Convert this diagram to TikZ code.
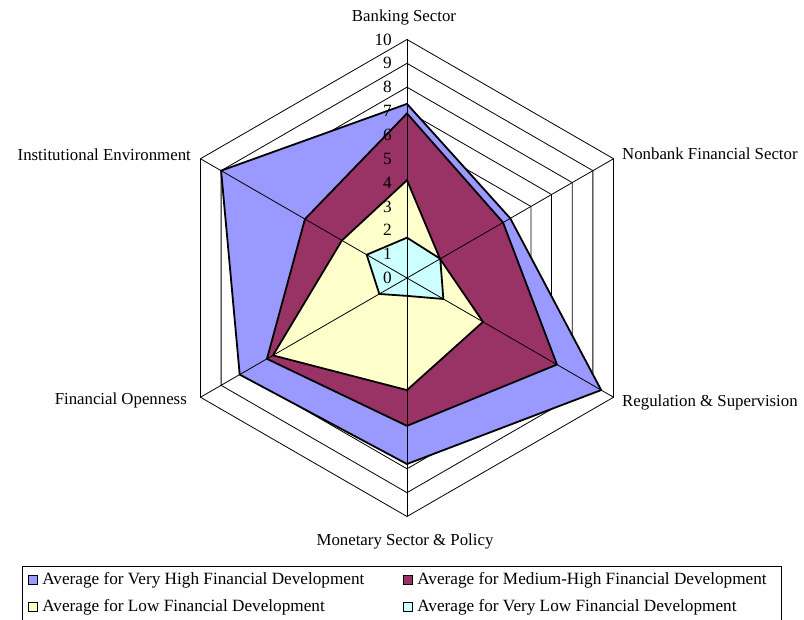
\documentclass[tikz,border=0pt]{standalone}
\usepackage{fontspec}
\setmainfont{Liberation Serif}
\usetikzlibrary{positioning, calc}
\definecolor{veryhigh}{RGB}{153, 153, 255}
\definecolor{medhigh}{RGB}{153, 51, 102}
\definecolor{lowdev}{RGB}{255, 255, 204}
\definecolor{verylow}{RGB}{204, 255, 255}

\begin{document}
\begin{tikzpicture}[x=1pt, y=1pt, font=\fontsize{17.2}{20}\selectfont,
  ring/.style={draw=black, line width=0.8pt},
  spoke/.style={draw=black, line width=0.8pt},
  series/.style={draw=black, line width=1.8pt, line join=miter},
  axislabel/.style={inner sep=0pt, font=\fontsize{16.8}{20}\selectfont},
  key/.style={draw=black, line width=0.8pt, minimum size=9.5pt, inner sep=0pt}]
  \useasboundingbox (0,0) rectangle (804,620);
  \coordinate (c) at (407,342);
  \def\u{23.85}

  % grid rings
  \foreach \k in {1,...,10}
    \draw[ring, shift={(c)}] (90:\k*\u) -- (30:\k*\u) -- (-30:\k*\u) -- (-90:\k*\u) -- (-150:\k*\u) -- (150:\k*\u) -- cycle;

  % series: banking, nonbank, regulation, monetary, openness, institutional
  \foreach \col/\a/\b/\cc/\d/\e/\f in {veryhigh/7.3/5.0/9.4/7.8/8.1/9.0,
      medhigh/6.9/4.65/7.26/6.2/6.78/4.94,
      lowdev/4.1/1.6/3.68/4.7/6.49/3.15,
      verylow/1.69/1.61/1.76/0.75/1.34/1.95}
    \filldraw[series, fill=\col, shift={(c)}] (90:\a*\u) -- (30:\b*\u) -- (-30:\cc*\u) -- (-90:\d*\u) -- (-150:\e*\u) -- (150:\f*\u) -- cycle;

  % axes
  \foreach \ang in {90,30,-30,-90,-150,150}
    \draw[spoke] (c) -- ++(\ang:10*\u);

  % scale
  \foreach \k in {0,...,10}
    \node[anchor=east, inner sep=0pt] (tick\k) at ($(c)+(-15,\k*\u)$) {\k};

  % category labels
  \node[axislabel, anchor=base] (bank) at (404,598.3) {Banking Sector};
  \node[axislabel, anchor=base west] (nonbank) at (622,460) {Nonbank Financial Sector};
  \node[axislabel, anchor=base west] (regul) at (622,213.3) {Regulation \& Supervision};
  \node[axislabel, anchor=base] (monet) at (405,74) {Monetary Sector \& Policy};
  \node[axislabel, anchor=base east] (open) at (187,215) {Financial Openness};
  \node[axislabel, anchor=base east] (instit) at (191,459) {Institutional Environment};

  % legend
  \draw[line width=0.8pt] (22,-1) rectangle (781,54);
  \node[key, fill=veryhigh] (kvh) at (33,40) {};
  \node[right=4pt of kvh, inner sep=0pt] (lvh) {Average for Very High Financial Development};
  \node[key, fill=medhigh] (kmh) at (408,40) {};
  \node[right=4pt of kmh, inner sep=0pt] (lmh) {Average for Medium-High Financial Development};
  \node[key, fill=lowdev] (klo) at (33,13) {};
  \node[right=4pt of klo, inner sep=0pt] (llo) {Average for Low Financial Development};
  \node[key, fill=verylow] (kvl) at (408,13) {};
  \node[right=4pt of kvl, inner sep=0pt] (lvl) {Average for Very Low Financial Development};
\end{tikzpicture}
\end{document}
